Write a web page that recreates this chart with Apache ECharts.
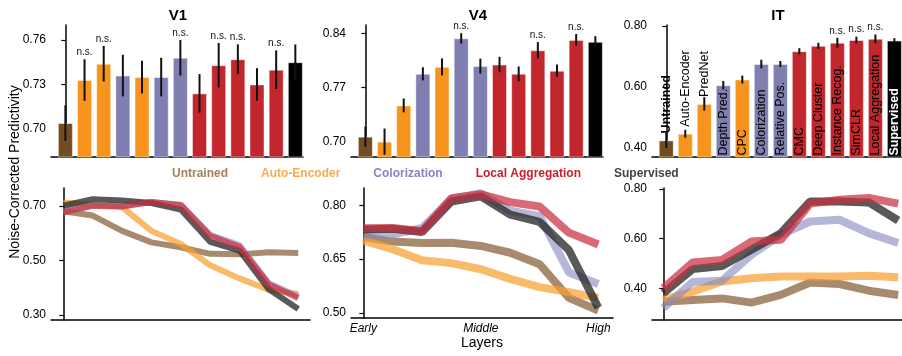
<!DOCTYPE html>
<html>
<head>
<meta charset="utf-8">
<script src="https://cdn.jsdelivr.net/npm/echarts@6/dist/echarts.min.js"></script>
<style>
  html, body { margin: 0; padding: 0; background: #fff; }
  #chart { width: 902px; height: 356px; }
</style>
</head>
<body>
<div id="chart"></div>
<script>
// models, in bar order
const models = ['Untrained', 'Auto-Encoder', 'PredNet', 'Depth Pred.', 'CPC', 'Colorization', 'Relative Pos.',
  'CMC', 'Deep Cluster', 'Instance Recog.', 'SimCLR', 'Local Aggregation', 'Supervised'];
const modelGroup = ['untrained', 'ae', 'ae', 'color', 'ae', 'color', 'color', 'la', 'la', 'la', 'la', 'la', 'sup'];

// top row: bar values, error half-widths, n.s. flags
const v1Vals = [0.704, 0.733, 0.744, 0.736, 0.735, 0.735, 0.748, 0.724, 0.743, 0.747, 0.730, 0.740, 0.745];
const v1Errs = [0.012, 0.014, 0.012, 0.014, 0.011, 0.013, 0.012, 0.013, 0.015, 0.010, 0.011, 0.013, 0.012];
const v1NS = [0, 1, 1, 0, 0, 0, 1, 0, 1, 1, 0, 1, 0];

const v4Vals = [0.7065, 0.700, 0.747, 0.788, 0.797, 0.834, 0.798, 0.800, 0.788, 0.8185, 0.792, 0.832, 0.8295];
const v4Errs = [0.013, 0.017, 0.009, 0.0085, 0.011, 0.0067, 0.0097, 0.010, 0.0095, 0.0106, 0.008, 0.0076, 0.0073];
const v4NS = [0, 0, 0, 0, 0, 1, 0, 0, 0, 1, 0, 1, 0];

const itVals = [0.424, 0.446, 0.544, 0.6055, 0.624, 0.675, 0.675, 0.717, 0.735, 0.745, 0.754, 0.758, 0.752];
const itErrs = [0.025, 0.013, 0.022, 0.014, 0.013, 0.014, 0.010, 0.010, 0.010, 0.016, 0.011, 0.014, 0.008];
const itNS = [0, 0, 0, 0, 0, 0, 0, 0, 0, 1, 1, 1, 0];

// bottom row: layer curves (9 layers, Early -> High)
const lineModels = ['Untrained', 'Auto-Encoder', 'Colorization', 'Supervised', 'Local Aggregation'];
const layerIdx = [0, 1, 2, 3, 4, 5, 6, 7, 8];
const layerLabels = { 0: 'Early', 4: 'Middle', 8: 'High' };

const v1Lines = [
  [0.680, 0.664, 0.608, 0.566, 0.548, 0.524, 0.522, 0.530, 0.527],
  [0.712, 0.704, 0.695, 0.608, 0.560, 0.482, 0.434, 0.392, 0.377],
  [0.680, 0.702, 0.700, 0.714, 0.703, 0.594, 0.556, 0.416, 0.368],
  [0.700, 0.724, 0.719, 0.710, 0.686, 0.568, 0.536, 0.394, 0.322],
  [0.676, 0.700, 0.697, 0.714, 0.703, 0.590, 0.550, 0.412, 0.362],
];
const v4Lines = [
  [0.712, 0.699, 0.695, 0.696, 0.687, 0.668, 0.636, 0.542, 0.507],
  [0.702, 0.678, 0.647, 0.639, 0.622, 0.595, 0.572, 0.558, 0.542],
  [0.719, 0.719, 0.737, 0.818, 0.834, 0.785, 0.770, 0.613, 0.581],
  [0.733, 0.735, 0.726, 0.811, 0.825, 0.774, 0.754, 0.675, 0.515],
  [0.736, 0.737, 0.728, 0.820, 0.831, 0.809, 0.797, 0.724, 0.691],
];
const itLines = [
  [0.346, 0.353, 0.359, 0.342, 0.373, 0.423, 0.417, 0.390, 0.373],
  [0.353, 0.386, 0.427, 0.440, 0.447, 0.447, 0.447, 0.450, 0.444],
  [0.320, 0.425, 0.430, 0.535, 0.615, 0.669, 0.676, 0.622, 0.582],
  [0.380, 0.477, 0.490, 0.555, 0.622, 0.750, 0.750, 0.746, 0.673],
  [0.400, 0.504, 0.514, 0.588, 0.595, 0.741, 0.757, 0.764, 0.741],
];

// tick labels
const v1Ticks = [0.70, 0.73, 0.76];
const v4Ticks = [0.70, 0.77, 0.84];
const itTicks = [0.40, 0.60, 0.80];
const v1LineTicks = [0.30, 0.50, 0.70];
const v4LineTicks = [0.50, 0.65, 0.80];
const itLineTicks = [0.40, 0.60, 0.80];

const FONT = '"Liberation Sans", Arial, sans-serif';
const barColors = { untrained: '#744c22', ae: '#f7941d', color: '#7f7fb2', la: '#c1272d', sup: '#000000' };
const lineStyles = {
  'Untrained': { color: '#8f6a45', opacity: 0.78 },
  'Auto-Encoder': { color: '#f7a030', opacity: 0.72 },
  'Colorization': { color: '#8585c0', opacity: 0.6 },
  'Supervised': { color: '#2a2a2a', opacity: 0.78 },
  'Local Aggregation': { color: '#c8303e', opacity: 0.72 },
};
const legendColors = ['#a0805f', '#fba94b', '#8585c2', '#c8202e', '#444444'];

const myChart = echarts.init(document.getElementById('chart'), null, { renderer: 'canvas' });

function yAxisFor(gridIndex, min, max, ticks) {
  return {
    type: 'value', gridIndex, min, max,
    splitLine: { show: false },
    axisLine: { show: true, lineStyle: { color: '#000', width: 1.5 } },
    axisTick: { show: true, length: 4, customValues: ticks, lineStyle: { color: '#000', width: 1.2 } },
    axisLabel: {
      customValues: ticks, margin: 5, color: '#000', fontSize: 12, fontFamily: FONT,
      formatter: (v) => v.toFixed(2),
    },
  };
}

function xAxisFor(gridIndex, min, max) {
  return {
    type: 'value', gridIndex, min, max,
    splitLine: { show: false },
    axisLine: { show: true, onZero: false, lineStyle: { color: '#000', width: 1.5 } },
    axisTick: { show: false },
    axisLabel: { show: false },
  };
}

// 条形图 + 误差线
function barSeries(idx, vals, errs, ns, withLabels) {
  const data = vals.map((v, i) => {
    const item = { value: [i, v], name: models[i], itemStyle: { color: barColors[modelGroup[i]] } };
    if (withLabels) {
      const outside = i < 3;
      item.label = {
        show: true,
        position: outside ? 'top' : 'insideBottom',
        distance: outside ? 7 : 2,
        rotate: 90,
        align: 'left',
        verticalAlign: 'middle',
        fontSize: 12.5,
        fontFamily: FONT,
        fontWeight: (i === 0 || i === 12) ? 'bold' : 'normal',
        color: i === 12 ? '#fff' : '#000',
        formatter: (p) => p.name,
      };
    }
    return item;
  });
  const errData = vals.map((v, i) => [i, v, errs[i], ns[i]]);
  return [
    {
      type: 'bar', name: 'bars' + idx, xAxisIndex: idx, yAxisIndex: idx,
      barWidth: 15, data,
      itemStyle: { borderColor: 'rgba(255,255,255,0.45)', borderWidth: 1 },
    },
    {
      type: 'custom', name: 'err' + idx, xAxisIndex: idx, yAxisIndex: idx,
      clip: false, z: 5,
      data: errData,
      renderItem: (params, api) => {
        const x = api.value(0), v = api.value(1), e = api.value(2), flag = api.value(3);
        const top = api.coord([x, v + e]);
        const bot = api.coord([x, v - e]);
        const children = [{
          type: 'line',
          shape: { x1: top[0], y1: top[1], x2: bot[0], y2: bot[1] },
          style: { stroke: '#111', lineWidth: 2 },
        }];
        if (flag) {
          children.push({
            type: 'text', x: top[0], y: top[1] - 2,
            style: { text: 'n.s.', align: 'center', verticalAlign: 'bottom', fontSize: 10, fontFamily: FONT, fill: '#111' },
          });
        }
        return { type: 'group', children };
      },
    },
  ];
}

function lineSeries(idx, lines, width) {
  return lines.map((vals, k) => ({
    type: 'line', name: lineModels[k], xAxisIndex: idx, yAxisIndex: idx,
    showSymbol: false, symbol: 'none', smooth: false,
    data: vals.map((v, i) => [layerIdx[i], v]),
    color: lineStyles[lineModels[k]].color,
    lineStyle: { width, color: lineStyles[lineModels[k]].color, opacity: lineStyles[lineModels[k]].opacity },
  }));
}

const xLayers = xAxisFor(4, -0.42, 8.5);
xLayers.axisLabel = {
  show: true, customValues: [0, 4, 8], margin: 5, color: '#000', fontSize: 12, fontStyle: 'italic', fontFamily: FONT,
  formatter: (v) => layerLabels[v] || '',
};
xLayers.name = 'Layers';
xLayers.nameLocation = 'middle';
xLayers.nameGap = 17;
xLayers.nameTextStyle = { fontSize: 14, color: '#000', fontFamily: FONT };

const option = {
  animation: false,
  title: [
    { text: 'V1', left: 178, top: 8, padding: 0, textAlign: 'center', textStyle: { fontSize: 15, fontWeight: 'bold', fontFamily: FONT, color: '#000' } },
    { text: 'V4', left: 478, top: 8, padding: 0, textAlign: 'center', textStyle: { fontSize: 15, fontWeight: 'bold', fontFamily: FONT, color: '#000' } },
    { text: 'IT', left: 778, top: 8, padding: 0, textAlign: 'center', textStyle: { fontSize: 15, fontWeight: 'bold', fontFamily: FONT, color: '#000' } },
  ],
  legend: {
    left: 167, top: 168, padding: 0, itemGap: 28, itemWidth: 0, itemHeight: 0, icon: 'none',
    selectedMode: false,
    textStyle: { fontSize: 12, fontWeight: 'bold', fontFamily: FONT },
    data: ['Untrained', 'Auto-Encoder', 'Colorization', 'Local Aggregation', 'Supervised'].map((n) => ({
      name: n, textStyle: { color: legendColors[['Untrained', 'Auto-Encoder', 'Colorization', 'Local Aggregation', 'Supervised'].indexOf(n)] },
    })),
  },
  graphic: [{
    type: 'text', x: 15, y: 172, rotation: Math.PI / 2,
    style: { text: 'Noise-Corrected Predictivity', align: 'center', verticalAlign: 'middle', fontSize: 14, fontFamily: FONT, fill: '#000' },
  }],
  grid: [
    { left: 51, top: 25, width: 252, height: 132 },
    { left: 351, top: 25, width: 252, height: 132 },
    { left: 652, top: 25, width: 250, height: 132 },
    { left: 51, top: 188, width: 259, height: 132 },
    { left: 351, top: 188, width: 262, height: 130 },
    { left: 652, top: 188, width: 250, height: 132 },
  ],
  xAxis: [
    xAxisFor(0, -0.75, 12.4),
    xAxisFor(1, -0.75, 12.4),
    xAxisFor(2, -0.75, 12.4),
    xAxisFor(3, -0.42, 8.4),
    xLayers,
    xAxisFor(5, -0.385, 8.13),
  ],
  yAxis: [
    yAxisFor(0, 0.6811, 0.7701, v1Ticks),
    yAxisFor(1, 0.6801, 0.8513, v4Ticks),
    yAxisFor(2, 0.3694, 0.8033, itTicks),
    yAxisFor(3, 0.2817, 0.765, v1LineTicks),
    yAxisFor(4, 0.486, 0.8485, v4LineTicks),
    yAxisFor(5, 0.272, 0.804, itLineTicks),
  ],
  series: [
    ...barSeries(0, v1Vals, v1Errs, v1NS, false),
    ...barSeries(1, v4Vals, v4Errs, v4NS, false),
    ...barSeries(2, itVals, itErrs, itNS, true),
    ...lineSeries(3, v1Lines, 6),
    ...lineSeries(4, v4Lines, 8),
    ...lineSeries(5, itLines, 8),
  ],
};

myChart.setOption(option);
</script>
</body>
</html>
